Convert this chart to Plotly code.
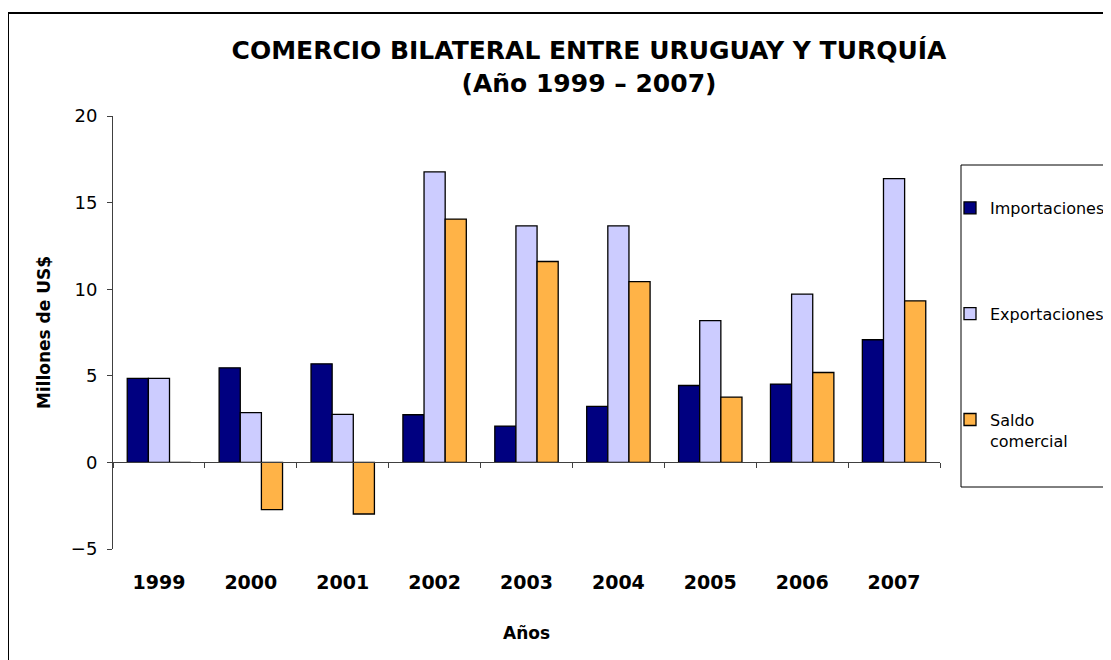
import plotly.graph_objects as go

years = ["1999", "2000", "2001", "2002", "2003", "2004", "2005", "2006", "2007"]
importaciones = [4.85, 5.46, 5.69, 2.75, 2.10, 3.23, 4.44, 4.52, 7.08]
exportaciones = [4.85, 2.87, 2.77, 16.77, 13.66, 13.66, 8.19, 9.72, 16.39]
saldo = [0.0, -2.73, -2.98, 14.05, 11.60, 10.44, 3.77, 5.19, 9.33]

series_names = ["Importaciones", "Exportaciones", "Saldo<br>comercial"]
series_colors = ["#000080", "#CCCCFF", "#FFB347"]

FONT = "DejaVu Sans"
OFF = 8  # page body margin

fig = go.Figure()
for i, (name, vals, col) in enumerate(zip(series_names, [importaciones, exportaciones, saldo], series_colors)):
    fig.add_trace(go.Bar(
        x=years, y=vals, name=name, legendgroup=f"g{i}",
        marker=dict(color=col, line=dict(color="#000000", width=1.3)),
    ))

# plot area in screen pixels
L, R, T, B = 113, 940, 116, 549
W, H = R - L, B - T
FW, FH = 1111 - OFF, 660 - OFF
def px(x):
    return (x - L) / W
def py(y):
    return (B - y) / H

fig.update_layout(
    width=FW, height=FH,
    margin=dict(l=L - OFF, r=FW - (R - OFF), t=T - OFF, b=FH - (B - OFF), autoexpand=False),
    paper_bgcolor="white", plot_bgcolor="white",
    font=dict(family=FONT, color="#000000"),
    barmode="group", bargap=0.31, bargroupgap=0,
    title=dict(
        text="COMERCIO BILATERAL ENTRE URUGUAY Y TURQUÍA<br>(Año 1999 – 2007)",
        x=(589 - OFF) / FW, xanchor="center", xref="container",
        y=1 - 51 / FH, yanchor="top", yref="container",
        font=dict(family=FONT, size=25, color="#000000", weight="bold"),
    ),
    xaxis=dict(
        type="category",
        anchor="free", position=5 / 25,
        showline=True, linecolor="#404040", linewidth=1,
        ticks="outside", ticklen=5, tickcolor="#404040", tickson="boundaries",
        tickfont=dict(family=FONT, size=19, color="#000000", weight="bold"),
        ticklabelstandoff=103,
        showgrid=False, zeroline=False,
        title=dict(text="<b>Años</b>", font=dict(family=FONT, size=17), standoff=34),
    ),
    yaxis=dict(
        range=[-5, 20], tickvals=[-5, 0, 5, 10, 15, 20],
        ticktext=["−5", "0", "5", "10", "15", "20"],
        showline=True, linecolor="#404040", linewidth=1,
        ticks="outside", ticklen=5, tickcolor="#404040",
        tickfont=dict(family=FONT, size=18, color="#000000"),
        ticklabelstandoff=6,
        showgrid=False, zeroline=False,
        title=dict(text="<b>Millones de US$</b>", font=dict(family=FONT, size=17), standoff=15),
    ),
    legend=dict(
        x=px(950), y=py(191), xanchor="left", yanchor="top",
        font=dict(family=FONT, size=16, color="#000000"),
        bgcolor="rgba(0,0,0,0)", borderwidth=0,
        tracegroupgap=82, valign="top",
        traceorder="grouped",
    ),
    shapes=[
        dict(type="rect", xref="paper", yref="paper",
             x0=px(8), x1=px(1125), y0=py(680), y1=py(13),
             line=dict(color="#000000", width=2), fillcolor="rgba(0,0,0,0)", layer="below"),
        dict(type="rect", xref="paper", yref="paper",
             x0=px(961), x1=px(1125), y0=py(487), y1=py(165),
             line=dict(color="#000000", width=1), fillcolor="rgba(0,0,0,0)", layer="below"),
    ],
)

fig.write_html("out.html")
